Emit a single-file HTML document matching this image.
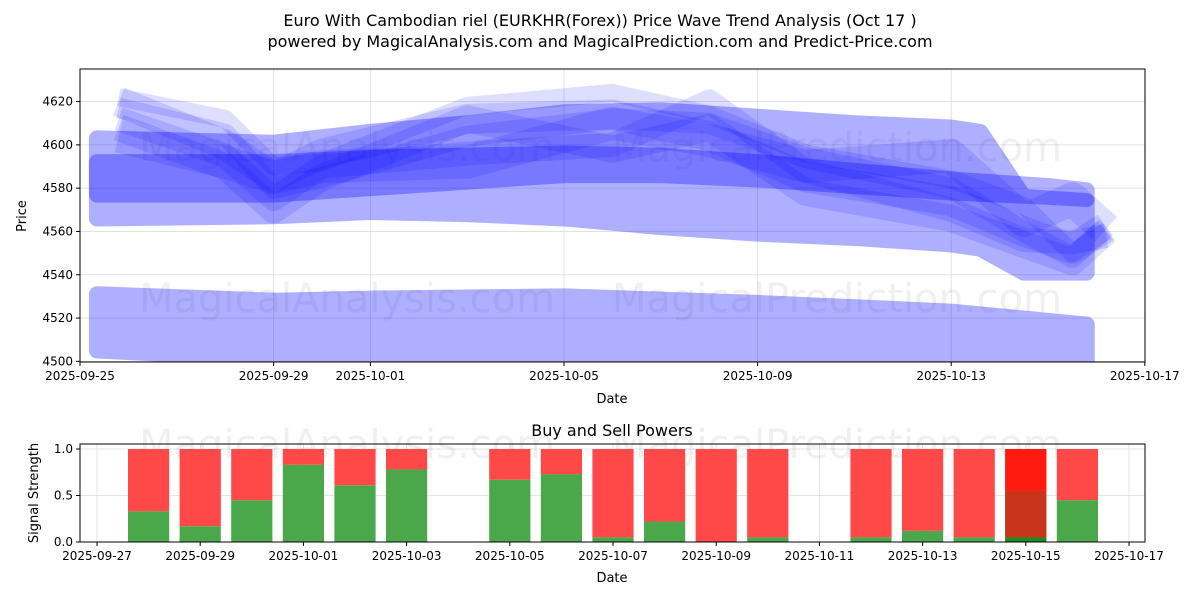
<!DOCTYPE html>
<html><head><meta charset="utf-8"><style>
body{margin:0;background:#fff;font-family:"Liberation Sans","DejaVu Sans",sans-serif}
svg text{font-family:"DejaVu Sans","Liberation Sans",sans-serif}
</style></head><body>
<svg id="c" width="1200" height="600" xmlns="http://www.w3.org/2000/svg">
<defs><clipPath id="clipTop"><rect x="80" y="69" width="1065" height="293"/></clipPath></defs>
<text x="600" y="26" text-anchor="middle" font-size="16">Euro With Cambodian riel (EURKHR(Forex)) Price Wave Trend Analysis (Oct 17 )</text>
<text x="600" y="47" text-anchor="middle" font-size="16">powered by MagicalAnalysis.com and MagicalPrediction.com and Predict-Price.com</text>
<g id="topg"></g><g id="botg"></g>
</svg>
<script>
const NS='http://www.w3.org/2000/svg';
// top chart data (day offsets from 2025-09-25)
const lowDays=[0.35,4,6,10,14,18,20.8];
const lowUpper=[4531,4528,4529,4530,4527,4523,4517];
const lowLower=[4505,4501,4502,4503,4501,4500,4500];
const mainDays=[0.35,4,6,8,10,12,14,16,18,18.6,19.5,20.8];
const mainUpper=[4603,4601,4606,4610,4615,4616,4613,4610,4608,4606,4576,4574];
const mainLower=[4566,4567,4569,4568,4566,4562,4559,4557,4554,4552,4541,4541];
const coreDays=[0.35,4,6,8,10,12,14,16,18,20,20.8];
const coreUpper=[4592,4592,4594,4595,4596,4595,4592,4588,4584,4581,4579];
const coreLower=[4577,4577,4580,4583,4586,4586,4584,4581,4578,4576,4575];
const waveDays=[0.8,3,4,5,8,11,13,15,18,19.5,20.5,21.2];
const waves=[
 [4622,4612,4590,4592,4618,4624,4614,4596,4584,4572,4550,4560],
 [4617,4605,4580,4585,4604,4612,4610,4594,4580,4560,4548,4562],
 [4612,4595,4575,4590,4596,4600,4620,4588,4570,4556,4555,4558],
 [4608,4590,4570,4585,4612,4598,4608,4578,4566,4554,4546,4560],
 [4620,4600,4585,4596,4612,4614,4604,4585,4574,4560,4552,4562],
 [4604,4592,4585,4590,4592,4610,4602,4590,4595,4565,4575,4561]
];
const priceTicks=[4500,4520,4540,4560,4580,4600,4620];
const topDateTicks=[0,4,6,10,14,18,22];
const topDateLabels=['2025-09-25','2025-09-29','2025-10-01','2025-10-05','2025-10-09','2025-10-13','2025-10-17'];
// bottom chart data (day offsets from 2025-09-27)
const barDays=[1,2,3,4,5,6,8,9,10,11,12,13,15,16,17,18,19];
const buyVals=[0.33,0.17,0.45,0.83,0.61,0.78,0.67,0.73,0.05,0.22,0.0,0.05,0.05,0.12,0.05,0.05,0.45];
const sellVals=[0.67,0.83,0.55,0.17,0.39,0.22,0.33,0.27,0.95,0.78,1.0,0.95,0.95,0.88,0.95,0.95,0.55];
const botDateTicks=[0,2,4,6,8,10,12,14,16,18,20];
const botDateLabels=['2025-09-27','2025-09-29','2025-10-01','2025-10-03','2025-10-05','2025-10-07','2025-10-09','2025-10-11','2025-10-13','2025-10-15','2025-10-17'];
const sigTicks=[0,0.5,1.0];
const sigLabels=['0.0','0.5','1.0'];

function el(t,a,p){const e=document.createElementNS(NS,t);for(const k in a)e.setAttribute(k,a[k]);p.appendChild(e);return e;}
const topG=document.getElementById('topg'),botG=document.getElementById('botg');
const L=80,R=1145,T=69,B=362;
const xT=d=>80+d*48.4, yT=v=>362-(v-4499.7)*2.165;
const BT=444,BB=542;
const xB=d=>97+d*51.6, yB=v=>542-v*93;

priceTicks.forEach(v=>{const g=el('line',{x1:L,x2:R,y1:yT(v),y2:yT(v),stroke:'#ddd','stroke-width':0.8},topG);

});
topDateTicks.forEach(d=>{const g=el('line',{x1:xT(d),x2:xT(d),y1:T,y2:B,stroke:'#ddd','stroke-width':0.8},topG);

});
function wm(y,p){[['MagicalAnalysis.com',347],['MagicalPrediction.com',837]].forEach(([s,x])=>{const e=el('text',{x:x,y:y,'text-anchor':'middle','font-size':40,fill:'#000','fill-opacity':0.06},p);e.textContent=s;

});}
wm(161,topG);wm(312,topG);
const plotG=el('g',{'clip-path':'url(#clipTop)'},topG);


function band(days,up,lo,op,name){
 const g=el('g',{opacity:op},plotG);
 
 
 const p=days.map((d,i)=>xT(d)+','+yT(up[i])).concat(days.slice().reverse().map((d,j)=>xT(d)+','+yT(lo[days.length-1-j]))).join(' ');
 el('polygon',{points:p,fill:'#0000ff',stroke:'#0000ff','stroke-width':16,'stroke-linejoin':'round'},g);
}
band(lowDays,lowUpper,lowLower,0.31,'wave-band-low');
band(mainDays,mainUpper,mainLower,0.31,'wave-band-main');
band(coreDays,coreUpper,coreLower,0.3,'wave-band-core');
waves.forEach((w,i)=>{
 const g=el('g',{opacity:0.13},plotG);
 
 
 el('polyline',{points:waveDays.map((d,j)=>xT(d)+','+yT(w[j])).join(' '),fill:'none',stroke:'#0000ff','stroke-width':18+i*3,'stroke-linejoin':'round','stroke-linecap':'butt'},g);
});
const f1=el('rect',{x:L,y:T,width:R-L,height:B-T,fill:'none',stroke:'#000','stroke-width':1},topG);


priceTicks.forEach(v=>{el('line',{x1:L-4,x2:L,y1:yT(v),y2:yT(v),stroke:'#000'},topG);const s=el('text',{x:L-7,y:yT(v)+4,'text-anchor':'end','font-size':12},topG);s.textContent=v;

});
topDateTicks.forEach((d,i)=>{el('line',{x1:xT(d),x2:xT(d),y1:B,y2:B+4,stroke:'#000'},topG);const s=el('text',{x:xT(d),y:B+18,'text-anchor':'middle','font-size':12},topG);s.textContent=topDateLabels[i];

});
let tx=el('text',{x:612,y:403,'text-anchor':'middle','font-size':13},topG);tx.textContent='Date';


tx=el('text',{x:26,y:216,'text-anchor':'middle','font-size':13,transform:'rotate(-90 26 216)'},topG);tx.textContent='Price';



tx=el('text',{x:612,y:436,'text-anchor':'middle','font-size':16},botG);tx.textContent='Buy and Sell Powers';


sigTicks.forEach(v=>{el('line',{x1:L,x2:R,y1:yB(v),y2:yB(v),stroke:'#ddd','stroke-width':0.8},botG);});
botDateTicks.forEach(d=>{el('line',{x1:xB(d),x2:xB(d),y1:BT,y2:BB,stroke:'#ddd','stroke-width':0.8},botG);});
wm(458,botG);
barDays.forEach((d,i)=>{
 const x=xB(d)-20.6,w=41.2;
 const g=el('rect',{x:x,y:yB(buyVals[i]),width:w,height:yB(0)-yB(buyVals[i]),fill:'#4aa84a'},botG);
 
 
 const r=el('rect',{x:x,y:yB(buyVals[i]+sellVals[i]),width:w,height:yB(buyVals[i])-yB(buyVals[i]+sellVals[i]),fill:'#ff4848'},botG);
 
 
});
const ov=el('rect',{x:xB(18)-20.6,y:yB(1),width:41.2,height:yB(0.55)-yB(1),fill:'#ff1a10'},botG);


const ov2=el('rect',{x:xB(18)-20.6,y:yB(0.55),width:41.2,height:yB(0.05)-yB(0.55),fill:'#c8341a'},botG);


const ov3=el('rect',{x:xB(18)-20.6,y:yB(0.05),width:41.2,height:yB(0)-yB(0.05),fill:'#1f8a1f'},botG);


const f2=el('rect',{x:L,y:BT,width:R-L,height:BB-BT,fill:'none',stroke:'#000'},botG);


sigTicks.forEach((v,i)=>{el('line',{x1:L-4,x2:L,y1:yB(v),y2:yB(v),stroke:'#000'},botG);const s=el('text',{x:L-7,y:yB(v)+4,'text-anchor':'end','font-size':12},botG);s.textContent=sigLabels[i];

});
botDateTicks.forEach((d,i)=>{el('line',{x1:xB(d),x2:xB(d),y1:BB,y2:BB+4,stroke:'#000'},botG);const s=el('text',{x:xB(d),y:BB+18,'text-anchor':'middle','font-size':12},botG);s.textContent=botDateLabels[i];

});
tx=el('text',{x:612,y:582,'text-anchor':'middle','font-size':13},botG);tx.textContent='Date';


tx=el('text',{x:38,y:493,'text-anchor':'middle','font-size':13,transform:'rotate(-90 38 493)'},botG);tx.textContent='Signal Strength';


</script>
</body></html>
